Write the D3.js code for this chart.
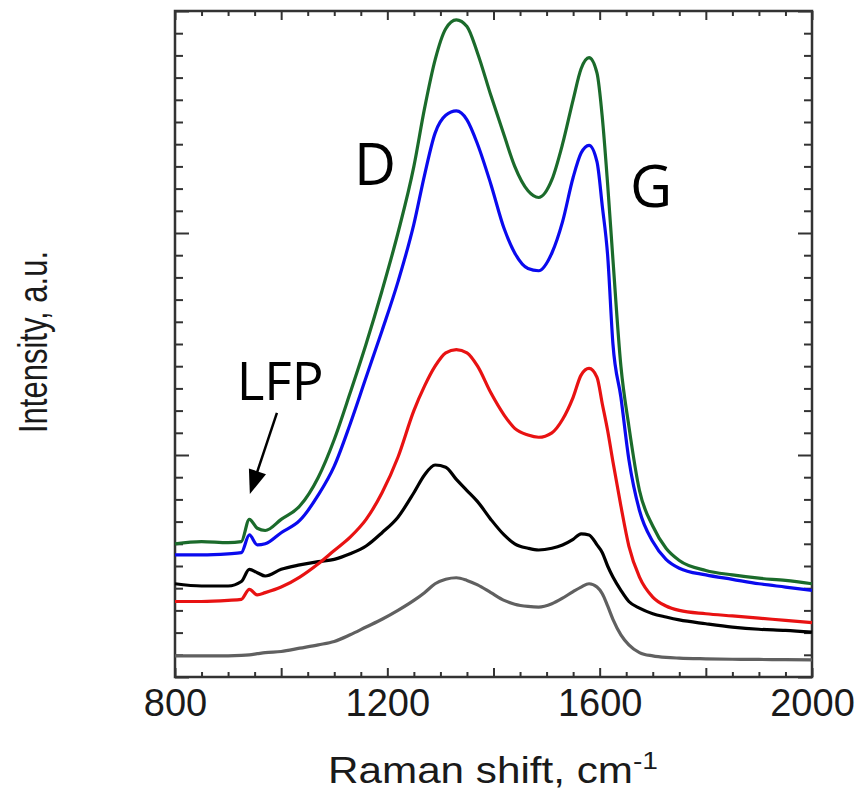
<!DOCTYPE html>
<html>
<head>
<meta charset="utf-8">
<script src="https://cdn.jsdelivr.net/npm/d3@7/dist/d3.min.js"></script>
<style>
  html, body { margin: 0; padding: 0; background: #fff; }
  svg { display: block; }
</style>
</head>
<body>
<svg id="chart" width="864" height="798"></svg>
<script>
// Raman shift grid (cm^-1)
const shift = [800, 850, 900, 925, 940, 955, 970, 1000, 1035, 1070, 1100, 1130, 1160, 1190, 1220, 1250, 1270, 1290, 1310, 1330, 1350, 1370, 1395, 1420, 1440, 1465, 1485, 1510, 1530, 1550, 1565, 1580, 1595, 1605, 1615, 1625, 1640, 1655, 1675, 1700, 1725, 1750, 1800, 1850, 1900, 1950, 2000];

// Intensity (a.u.) per spectrum
const greenSeries = [6.0, 6.1, 6.05, 6.1, 7.1, 6.7, 6.6, 7.1, 7.7, 9.0, 10.7, 12.8, 15.0, 17.4, 20.0, 23.0, 25.6, 27.8, 29.2, 29.6, 29.3, 28.1, 26.2, 24.4, 23.0, 21.9, 21.6, 22.4, 24.0, 26.0, 27.4, 27.9, 27.2, 25.2, 22.2, 18.8, 14.0, 11.3, 8.4, 6.8, 5.8, 5.25, 4.8, 4.6, 4.45, 4.35, 4.2];
const blueSeries = [5.5, 5.5, 5.55, 5.6, 6.4, 5.95, 6.0, 6.5, 7.05, 8.2, 9.5, 11.4, 13.5, 15.6, 17.8, 20.4, 22.6, 24.5, 25.3, 25.5, 25.1, 24.0, 22.2, 20.2, 19.1, 18.4, 18.3, 19.1, 20.5, 22.5, 23.6, 23.95, 23.2, 21.2, 19.0, 15.0, 12.6, 9.8, 7.5, 6.1, 5.3, 4.9, 4.6, 4.4, 4.2, 4.05, 3.9];
const redSeries = [3.4, 3.4, 3.45, 3.5, 3.95, 3.7, 3.8, 4.05, 4.5, 5.1, 5.7, 6.3, 7.1, 8.3, 9.9, 12.0, 13.1, 14.0, 14.6, 14.75, 14.6, 14.0, 12.8, 11.8, 11.2, 10.9, 10.8, 11.0, 11.6, 12.6, 13.6, 13.9, 13.5, 12.3, 11.1, 9.7, 7.7, 5.9, 4.5, 3.6, 3.2, 3.0, 2.85, 2.75, 2.65, 2.55, 2.45];
const blackSeries = [4.2, 4.1, 4.1, 4.3, 4.85, 4.7, 4.55, 4.85, 5.05, 5.2, 5.3, 5.55, 5.9, 6.5, 7.2, 8.3, 9.1, 9.55, 9.45, 8.9, 8.4, 7.9, 7.1, 6.4, 6.0, 5.8, 5.72, 5.8, 5.95, 6.2, 6.45, 6.4, 5.95, 5.6, 5.0, 4.5, 3.9, 3.4, 3.1, 2.85, 2.7, 2.57, 2.4, 2.25, 2.15, 2.1, 2.02];
const graySeries = [0.95, 0.95, 0.95, 0.97, 1.0, 1.05, 1.1, 1.15, 1.3, 1.45, 1.6, 1.9, 2.25, 2.6, 3.0, 3.45, 3.8, 4.2, 4.4, 4.47, 4.35, 4.15, 3.8, 3.45, 3.28, 3.18, 3.15, 3.3, 3.55, 3.85, 4.05, 4.2, 4.05, 3.75, 3.2, 2.6, 1.9, 1.45, 1.1, 0.95, 0.88, 0.85, 0.82, 0.8, 0.79, 0.78, 0.77];

const seriesNames = ["gray", "black", "red", "blue", "green"];
const seriesColors = ["#606060", "#000000", "#e81212", "#0a0aee", "#1b6b2b"];
const seriesValues = [graySeries, blackSeries, redSeries, blueSeries, greenSeries];

const xTickLabels = [800, 1200, 1600, 2000];
const xMajorTicks = [800, 1000, 1200, 1400, 1600, 1800, 2000];
const yMajorTicks = [0, 10, 20, 30];

const xLabel = "Raman shift, cm";
const xLabelSup = "-1";
const yLabel = "Intensity, a.u.";

// annotations in data units: [text, shift, intensity]
const annotations = [["D", 1177, 22.16], ["G", 1697, 21.17], ["LFP", 998, 12.48]];
const arrowFrom = [992, 11.9];
const arrowTo = [941, 8.24];

// ---------------------------------------------------------------
const svg = d3.select("#chart");
const L = 175, R = 812, T = 11, B = 677;

const x = d3.scaleLinear().domain([800, 2000]).range([L, R]);
const y = d3.scaleLinear().domain([0, 30]).range([B, T]);

const xMinor = d3.range(800, 2001, 50).filter(v => v % 200 !== 0);
const yMinor = d3.range(0, 31, 1).filter(v => v % 10 !== 0);

function styleAxis(g) {
  g.select(".domain").remove();
  g.selectAll(".tick line").attr("stroke", "#333").attr("stroke-width", 2);
}

// bottom
svg.append("g").attr("transform", `translate(0,${B})`)
  .call(d3.axisBottom(x).tickValues(xMajorTicks).tickSize(-9).tickPadding(12)
    .tickFormat(d => xTickLabels.includes(d) ? d : ""))
  .call(styleAxis)
  .call(g => g.selectAll("text").attr("font-family", "'Liberation Sans', Arial, sans-serif")
    .attr("font-size", 38).attr("fill", "#1a1a1a"));
svg.append("g").attr("transform", `translate(0,${B})`)
  .call(d3.axisBottom(x).tickValues(xMinor).tickSize(-5).tickFormat(""))
  .call(styleAxis);
// top
svg.append("g").attr("transform", `translate(0,${T})`)
  .call(d3.axisTop(x).tickValues(xMajorTicks).tickSize(-9).tickFormat(""))
  .call(styleAxis);
svg.append("g").attr("transform", `translate(0,${T})`)
  .call(d3.axisTop(x).tickValues(xMinor).tickSize(-5).tickFormat(""))
  .call(styleAxis);
// left
svg.append("g").attr("transform", `translate(${L},0)`)
  .call(d3.axisLeft(y).tickValues(yMajorTicks).tickSize(-14).tickFormat(""))
  .call(styleAxis);
svg.append("g").attr("transform", `translate(${L},0)`)
  .call(d3.axisLeft(y).tickValues(yMinor).tickSize(-8).tickFormat(""))
  .call(styleAxis);
// right
svg.append("g").attr("transform", `translate(${R},0)`)
  .call(d3.axisRight(y).tickValues(yMajorTicks).tickSize(-14).tickFormat(""))
  .call(styleAxis);
svg.append("g").attr("transform", `translate(${R},0)`)
  .call(d3.axisRight(y).tickValues(yMinor).tickSize(-8).tickFormat(""))
  .call(styleAxis);

// frame
svg.append("rect").attr("x", L).attr("y", T).attr("width", R - L).attr("height", B - T)
  .attr("fill", "none").attr("stroke", "#333").attr("stroke-width", 2.5);

// lines
const line = d3.line().x(d => x(d[0])).y(d => y(d[1])).curve(d3.curveMonotoneX);
seriesValues.forEach((vals, i) => {
  svg.append("path")
    .datum(shift.map((s, j) => [s, vals[j]]))
    .attr("class", "series " + seriesNames[i])
    .attr("fill", "none")
    .attr("stroke", seriesColors[i])
    .attr("stroke-width", 3.2)
    .attr("stroke-linejoin", "round")
    .attr("d", line);
});

// annotations
annotations.forEach(([t, sx, sy]) => {
  svg.append("text").attr("x", x(sx)).attr("y", y(sy))
    .attr("text-anchor", "middle")
    .attr("font-family", "'Open Sans', 'Noto Sans', sans-serif")
    .attr("font-size", t === "LFP" ? 53 : 58)
    .attr("fill", "#000").text(t);
});

// arrow
{
  const x0 = x(arrowFrom[0]), y0 = y(arrowFrom[1]);
  const x1 = x(arrowTo[0]), y1 = y(arrowTo[1]);
  const dx = x1 - x0, dy = y1 - y0, len = Math.hypot(dx, dy);
  const ux = dx / len, uy = dy / len;
  const headLen = 24, headW = 9;
  const bx = x1 - ux * headLen, by = y1 - uy * headLen;
  svg.append("line").attr("x1", x0).attr("y1", y0).attr("x2", bx + ux * 2).attr("y2", by + uy * 2)
    .attr("stroke", "#000").attr("stroke-width", 2.5);
  svg.append("path")
    .attr("d", `M${x1},${y1} L${bx - uy * headW},${by + ux * headW} L${bx + uy * headW},${by - ux * headW} Z`)
    .attr("fill", "#000");
}

// axis labels
const xl = svg.append("text").attr("x", 328).attr("y", 783)
  .attr("font-family", "'Liberation Sans', Arial, sans-serif")
  .attr("font-size", 36).attr("fill", "#1a1a1a")
  .attr("textLength", 330).attr("lengthAdjust", "spacingAndGlyphs");
xl.append("tspan").text(xLabel);
xl.append("tspan").attr("font-size", 24).attr("dy", -14).text(xLabelSup);

svg.append("text")
  .attr("transform", `translate(47,${342}) rotate(-90)`)
  .attr("text-anchor", "middle")
  .attr("font-family", "'Liberation Sans', Arial, sans-serif")
  .attr("font-size", 40).attr("fill", "#1a1a1a")
  .attr("textLength", 182).attr("lengthAdjust", "spacingAndGlyphs")
  .text(yLabel);
</script>
</body>
</html>
